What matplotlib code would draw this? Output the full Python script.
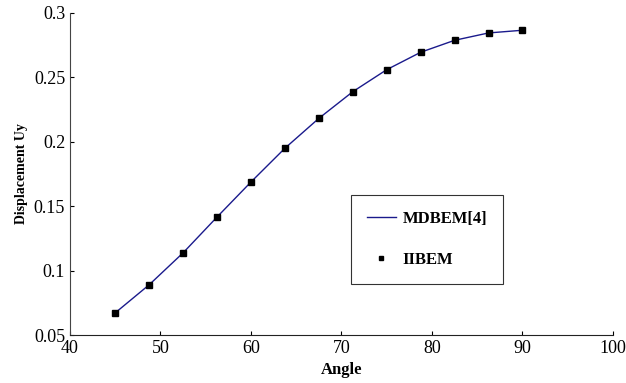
import numpy as np
import matplotlib.pyplot as plt

angle = [45, 48.75, 52.5, 56.25, 60, 63.75, 67.5, 71.25, 75, 78.75, 82.5, 86.25, 90]
uy_mdbem = [0.0672, 0.0890, 0.1138, 0.1416, 0.1688, 0.1950, 0.2182, 0.2389, 0.2560, 0.2695, 0.2788, 0.2845, 0.2866]
uy_iibem = [0.0673, 0.0891, 0.1139, 0.1416, 0.1688, 0.1950, 0.2182, 0.2389, 0.2560, 0.2695, 0.2788, 0.2845, 0.2866]

plt.rcParams['font.family'] = ['Liberation Serif', 'DejaVu Serif']

fig = plt.figure(figsize=(6.26, 3.83), dpi=100)
ax = fig.add_axes([0.1118, 0.1253, 0.8674, 0.8408])

ax.plot(angle, uy_mdbem, color='#1a1a8c', lw=1.0, label='MDBEM[4]')
ax.plot(angle, uy_iibem, ls='none', marker='s', ms=5, color='black', label='IIBEM')

ax.set_xlim(40, 100)
ax.set_ylim(0.05, 0.3)
ax.set_xticks([40, 50, 60, 70, 80, 90, 100])
ax.set_yticks([0.05, 0.1, 0.15, 0.2, 0.25, 0.3])
ax.set_yticklabels(['0.05', '0.1', '0.15', '0.2', '0.25', '0.3'])
ax.tick_params(direction='in', length=3, labelsize=13, width=0.8)
for s in ['top', 'right']:
    ax.spines[s].set_visible(False)
ax.spines['left'].set_color('#444444')
ax.spines['bottom'].set_color('#222222')

ax.set_xlabel('Angle', fontsize=12, fontweight='bold', labelpad=4)
ax.set_ylabel('Displacement Uy', fontsize=10, fontweight='bold', labelpad=4)

leg = ax.legend(loc='upper left', bbox_to_anchor=(0.5175, 0.435), frameon=True, fancybox=False,
                edgecolor='black', prop={'weight': 'bold', 'size': 12}, labelspacing=1.5,
                borderpad=0.95, handlelength=1.75, handletextpad=0.4, markerscale=0.7,
                borderaxespad=0)
leg.get_frame().set_linewidth(0.8)

fig.savefig('out.png', dpi=100)
